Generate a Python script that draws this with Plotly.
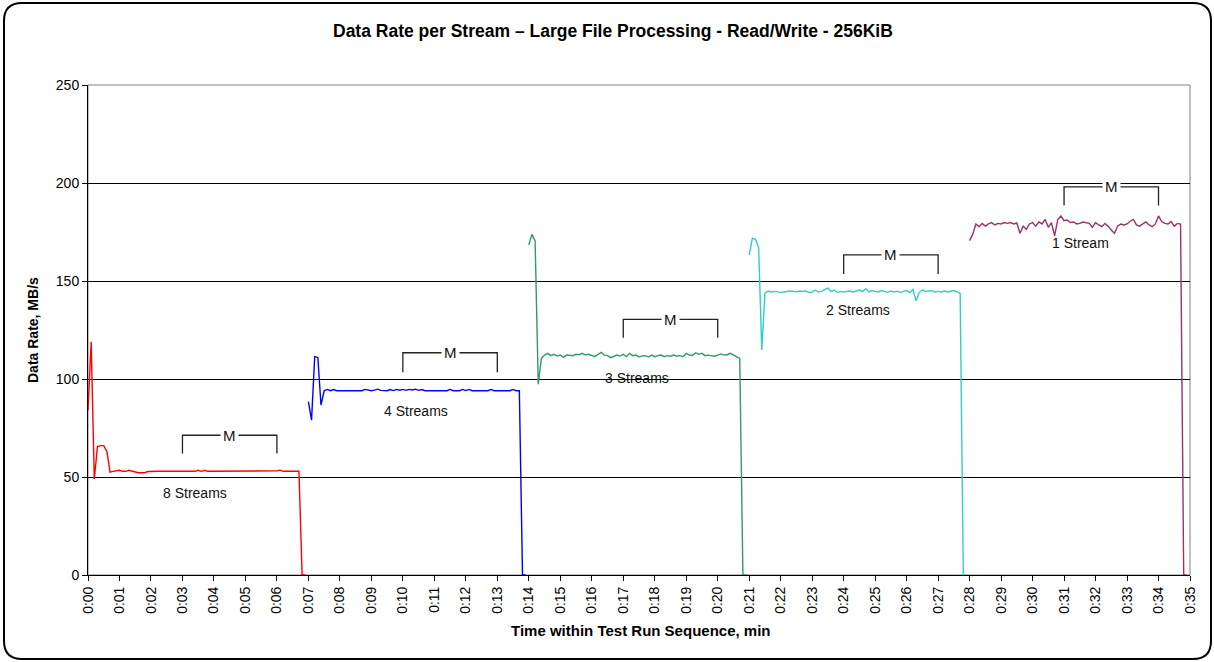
import plotly.graph_objects as go

# ---------------- data ----------------
SAMPLE_INTERVAL_MIN = 0.1

series_names = ["8 Streams", "4 Streams", "3 Streams", "2 Streams", "1 Stream"]
segment_start_min = [0.0, 7.0, 14.0, 21.0, 28.0]

rate_8 = [84, 119, 49, 65.5, 66, 66, 63, 52.5, 52.9, 53.2,
          53.4, 52.9, 52.9, 53.4, 52.9, 52.4, 52.2, 52.2, 52.2, 52.8,
          52.9, 52.9, 52.9, 52.9, 52.9, 52.9, 52.9, 52.9, 52.9, 52.9,
          52.9, 52.9, 52.9, 52.9, 52.9, 53.4, 52.9, 53.4, 52.9, 52.9,
          52.9, 52.9, 52.9, 52.9, 52.9, 52.9, 52.9, 52.9, 52.9, 52.9,
          52.9, 52.9, 52.9, 52.9, 52.9, 52.9, 52.9, 52.9, 52.9, 52.9,
          53.1, 53.5, 52.9, 52.9, 52.9, 52.9, 52.9, 52.9, 0, 0]

rate_4 = [88.4, 79, 111.4, 111.0, 86.7, 94.0, 94.7, 94.0, 94.6, 94.0,
          94.0, 94.0, 94.0, 94.0, 94.0, 94.0, 94.0, 94.0, 94.7, 94.2,
          94.0, 94.3, 94.8, 94.2, 94.0, 94.0, 94.6, 94.1, 94.7, 94.3,
          94.7, 94.2, 94.7, 94.4, 94.8, 94.2, 94.6, 94.0, 94.0, 94.0,
          94.0, 94.0, 94.0, 94.0, 94.0, 94.7, 94.0, 94.0, 94.0, 94.7,
          94.1, 94.7, 94.0, 94.0, 94.0, 94.0, 94.0, 94.0, 94.7, 94.0,
          94.0, 94.0, 94.0, 94.0, 94.0, 94.7, 94.0, 94.0, 0, 0]

rate_3 = [168.4, 173.8, 170.5, 97.3, 110.5, 112.2, 113.1, 111.9, 112.6, 111.7,
          112.2, 111.0, 112.2, 112.0, 111.9, 112.6, 112.4, 113.1, 112.2, 112.6,
          112.0, 111.4, 112.6, 113.6, 112.2, 111.9, 110.9, 111.4, 112.2, 111.7,
          112.6, 111.4, 113.1, 111.9, 112.2, 111.2, 111.8, 111.9, 111.2, 112.2,
          111.4, 111.9, 112.2, 111.4, 111.9, 111.6, 112.2, 111.6, 111.9, 111.4,
          113.1, 112.2, 112.1, 113.4, 112.6, 113.1, 111.9, 112.2, 111.9, 111.6,
          112.2, 112.8, 112.2, 112.4, 113.1, 112.2, 111.4, 110.5, 0, 0]

rate_2 = [163.3, 171.8, 171.3, 167.0, 114.8, 143.7, 144.9, 144.4, 144.7, 144.4,
          144.2, 144.4, 144.6, 144.9, 144.7, 144.5, 144.9, 144.7, 144.9, 144.1,
          144.4, 145.4, 144.4, 144.7, 145.7, 146.4, 144.6, 145.4, 144.1, 144.7,
          144.4, 144.6, 144.9, 144.4, 145.1, 145.4, 144.6, 146.1, 144.4, 145.1,
          144.7, 144.4, 145.1, 144.6, 144.2, 144.9, 144.4, 144.8, 144.1, 144.7,
          145.1, 144.1, 145.7, 139.9, 144.1, 145.4, 144.7, 144.9, 145.1, 144.4,
          144.7, 144.4, 144.9, 144.4, 144.7, 145.1, 144.4, 143.7, 0, 0]

rate_1 = [170.6, 173.9, 179.1, 177.7, 179.4, 178.0, 179.1, 179.8, 178.6, 179.4,
          179.1, 179.8, 179.4, 179.8, 179.1, 179.6, 174.3, 178.0, 176.4, 179.1,
          179.8, 178.0, 180.1, 179.1, 181.4, 177.4, 179.8, 173.0, 181.4, 183.2,
          180.8, 181.1, 179.8, 180.1, 179.1, 179.4, 180.1, 179.8, 179.4, 177.4,
          179.8, 178.6, 177.7, 179.4, 178.0, 176.0, 174.3, 178.0, 179.1, 178.6,
          179.1, 180.5, 181.4, 178.6, 178.0, 179.1, 180.1, 178.6, 177.7, 179.1,
          183.2, 180.3, 179.4, 179.1, 180.3, 178.0, 179.4, 179.1, 0, 0]

series_rates = [rate_8, rate_4, rate_3, rate_2, rate_1]

# series label positions (minutes, MB/s)
label_x = [3.4, 10.43, 17.44, 24.45, 31.53]
label_y = [41.7, 83.7, 100.4, 135.2, 169.2]

# measurement windows ("M" brackets)
bracket_start = [3, 10, 17, 24, 31]
bracket_end = [6, 13, 20, 27, 34]
bracket_top = [71.3, 113.4, 130.4, 163.3, 198.0]
bracket_bottom = [62.0, 103.4, 121.0, 153.6, 188.5]

x_tick_vals = list(range(0, 36))
x_tick_text = ["0:00", "0:01", "0:02", "0:03", "0:04", "0:05", "0:06", "0:07", "0:08",
               "0:09", "0:10", "0:11", "0:12", "0:13", "0:14", "0:15", "0:16", "0:17",
               "0:18", "0:19", "0:20", "0:21", "0:22", "0:23", "0:24", "0:25", "0:26",
               "0:27", "0:28", "0:29", "0:30", "0:31", "0:32", "0:33", "0:34", "0:35"]
y_tick_vals = [0, 50, 100, 150, 200, 250]

# ---------------- style ----------------
colors = ["#FF0000", "#0000FF", "#339966", "#33CCCC", "#993366"]
FONT = "Liberation Sans, Arial, sans-serif"

W, H = 1214, 662
ML, MR, MT, MB = 88, 24, 85, 87
PW, PH = W - ML - MR, H - MT - MB


def px_to_paper_x(px):
    return (px - ML) / PW


def px_to_paper_y(py):
    return (H - MB - py) / PH


fig = go.Figure()

for name, start, rates, col in zip(series_names, segment_start_min, series_rates, colors):
    times = [start + SAMPLE_INTERVAL_MIN * k for k in range(len(rates))]
    fig.add_trace(go.Scatter(x=times, y=rates, mode="lines", name=name,
                             line=dict(color=col, width=1.4), hoverinfo="skip"))

shapes = []
annotations = []

# plot-area border (grey)
shapes.append(dict(type="rect", xref="paper", yref="paper", x0=0, y0=0, x1=1, y1=1,
                   line=dict(color="#808080", width=1), layer="below"))

# brackets
for s, e, top, bot in zip(bracket_start, bracket_end, bracket_top, bracket_bottom):
    path = f"M {s},{bot} L {s},{top} L {e},{top} L {e},{bot}"
    shapes.append(dict(type="path", xref="x", yref="y", path=path,
                       line=dict(color="#222222", width=1.3), layer="above"))
    annotations.append(dict(x=(s + e) / 2, y=top, xref="x", yref="y", text="M",
                            showarrow=False, bgcolor="white", borderpad=2,
                            font=dict(family=FONT, size=15, color="#111111"),
                            xanchor="center", yanchor="middle"))

# series labels
for name, lx, ly in zip(series_names, label_x, label_y):
    annotations.append(dict(x=lx, y=ly, xref="x", yref="y", text=name, showarrow=False,
                            font=dict(family=FONT, size=14, color="#111111"),
                            xanchor="center", yanchor="middle"))

# axis titles
annotations.append(dict(x=px_to_paper_x(33), y=0.5, xref="paper", yref="paper",
                        text="<b>Data Rate, MB/s</b>", textangle=-90, showarrow=False,
                        font=dict(family=FONT, size=14, color="black"),
                        xanchor="center", yanchor="middle"))
annotations.append(dict(x=px_to_paper_x(640), y=px_to_paper_y(630), xref="paper", yref="paper",
                        text="<b>Time within Test Run Sequence, min</b>", showarrow=False,
                        font=dict(family=FONT, size=15, color="black"),
                        xanchor="center", yanchor="middle"))
annotations.append(dict(x=px_to_paper_x(613), y=px_to_paper_y(31), xref="paper", yref="paper",
                        text="<b>Data Rate per Stream – Large File Processing - Read/Write - 256KiB</b>",
                        showarrow=False, font=dict(family=FONT, size=17.5, color="black"),
                        xanchor="center", yanchor="middle"))

# outer rounded frame
fl, ft, fr, fb, rad = 4, 3, 1211, 659, 18
x0, x1 = px_to_paper_x(fl), px_to_paper_x(fr)
y0, y1 = px_to_paper_y(fb), px_to_paper_y(ft)
rx, ry = rad / PW, rad / PH
frame_path = (f"M {x0 + rx},{y1} L {x1 - rx},{y1} Q {x1},{y1} {x1},{y1 - ry} "
              f"L {x1},{y0 + ry} Q {x1},{y0} {x1 - rx},{y0} "
              f"L {x0 + rx},{y0} Q {x0},{y0} {x0},{y0 + ry} "
              f"L {x0},{y1 - ry} Q {x0},{y1} {x0 + rx},{y1} Z")
shapes.append(dict(type="path", xref="paper", yref="paper", path=frame_path,
                   line=dict(color="black", width=2), layer="above"))

fig.update_layout(
    width=W, height=H,
    margin=dict(l=ML, r=MR, t=MT, b=MB, autoexpand=False),
    paper_bgcolor="white", plot_bgcolor="white",
    showlegend=False, hovermode=False,
    font=dict(family=FONT, size=14, color="black"),
    shapes=shapes, annotations=annotations,
    xaxis=dict(range=[0, 35], tickmode="array", tickvals=x_tick_vals, ticktext=x_tick_text,
               tickangle=-90, ticks="outside", ticklen=5, tickcolor="black",
               showline=True, linecolor="black", linewidth=1, showgrid=False,
               zeroline=False, tickfont=dict(family=FONT, size=14, color="black"),
               fixedrange=True),
    yaxis=dict(range=[0, 250], tickmode="array", tickvals=y_tick_vals,
               ticks="outside", ticklen=5, tickcolor="black",
               showline=True, linecolor="black", linewidth=1,
               showgrid=True, gridcolor="black", gridwidth=1, zeroline=False,
               tickfont=dict(family=FONT, size=14, color="black"), fixedrange=True),
)

fig.write_html("out.html", config={"displayModeBar": False},
               post_script="document.body.style.margin='0';document.body.style.overflow='hidden';")
